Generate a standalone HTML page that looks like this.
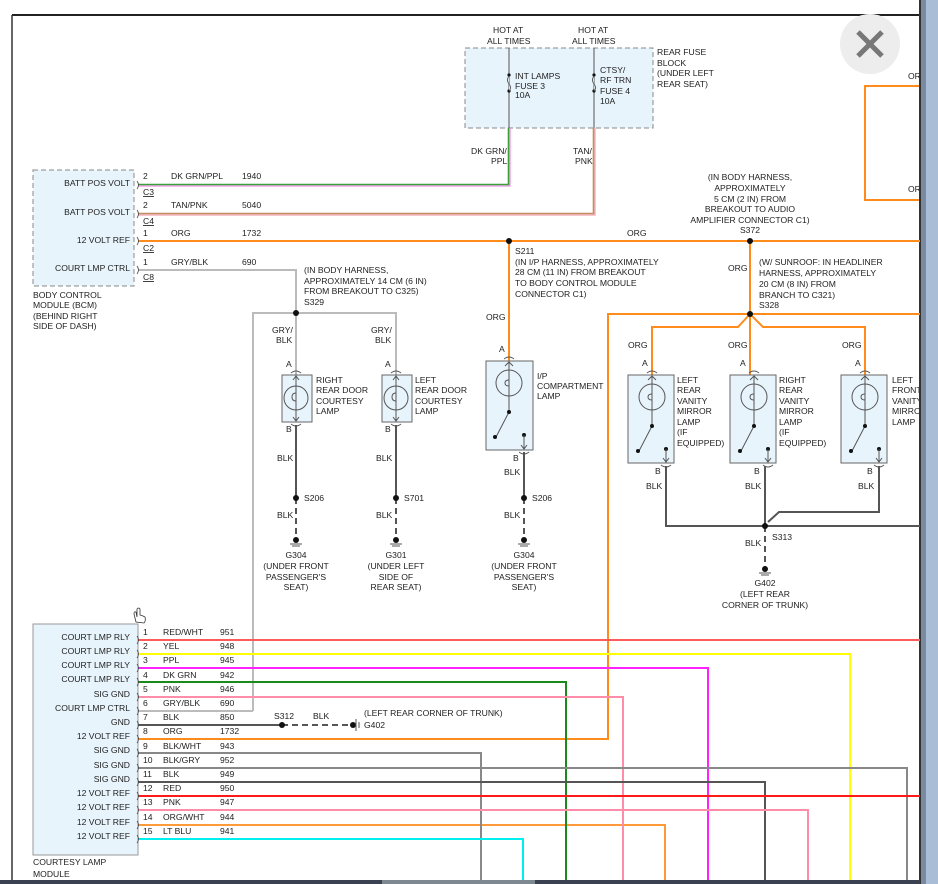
<!DOCTYPE html>
<html><head><meta charset="utf-8"><style>
html,body{margin:0;padding:0;background:#fff;width:938px;height:884px;overflow:hidden}
svg{display:block}
text{font-family:"Liberation Sans",Arial,sans-serif;font-size:8.6px;fill:#222}
</style></head><body>
<svg width="938" height="884" viewBox="0 0 938 884" xmlns="http://www.w3.org/2000/svg">
<!-- frame -->
<line x1="12" y1="15" x2="920" y2="15" stroke="#222" stroke-width="2"/>
<line x1="12" y1="15" x2="12" y2="884" stroke="#333" stroke-width="1.5"/>
<rect x="920" y="0" width="18" height="884" fill="#7a8aa0"/>
<rect x="919" y="0" width="2" height="884" fill="#333"/>
<rect x="926" y="0" width="12" height="884" fill="#a9bdd6"/>
<!-- close button -->
<circle cx="870" cy="44" r="30" fill="#ededed"/>
<path d="M858 32 L882 56 M882 32 L858 56" stroke="#777" stroke-width="5"/>

<!-- fuse block -->
<rect x="465" y="48" width="188" height="80" fill="#e8f4fc" stroke="#888" stroke-dasharray="5,3"/>
<text x="493" y="33">HOT AT</text><text x="487" y="44">ALL TIMES</text>
<text x="578" y="33">HOT AT</text><text x="572" y="44">ALL TIMES</text>
<text x="657" y="55">REAR FUSE</text><text x="657" y="66">BLOCK</text><text x="657" y="76">(UNDER LEFT</text><text x="657" y="87">REAR SEAT)</text>
<line x1="509" y1="48" x2="509" y2="128" stroke="#555"/>
<line x1="594" y1="48" x2="594" y2="128" stroke="#555"/>
<circle cx="509" cy="75" r="1.6" fill="#111"/><circle cx="509" cy="91" r="1.6" fill="#111"/>
<circle cx="594" cy="75" r="1.6" fill="#111"/><circle cx="594" cy="91" r="1.6" fill="#111"/>
<path d="M509 76 q-3 4 0 8 q3 4 0 7" fill="#e8f4fc" stroke="#555"/>
<path d="M594 76 q-3 4 0 8 q3 4 0 7" fill="#e8f4fc" stroke="#555"/>
<text x="515" y="79">INT LAMPS</text><text x="515" y="89">FUSE 3</text><text x="515" y="98">10A</text>
<text x="600" y="73">CTSY/</text><text x="600" y="83">RF TRN</text><text x="600" y="94">FUSE 4</text><text x="600" y="104">10A</text>
<text x="471" y="154">DK GRN/</text><text x="491" y="164">PPL</text>
<text x="573" y="154">TAN/</text><text x="575" y="164">PNK</text>

<!-- BCM wires -->
<path d="M138 186 H510 V128" fill="none" stroke="#f08ae8" stroke-width="1.2"/>
<path d="M138 184.5 H508.5 V128" fill="none" stroke="#3aa03a" stroke-width="1.6"/>
<path d="M138 215 H595 V128" fill="none" stroke="#f4a0b0" stroke-width="1.2"/>
<path d="M138 213.5 H593.5 V128" fill="none" stroke="#c09060" stroke-width="1.6"/>
<line x1="138" y1="241" x2="920" y2="241" stroke="#ff8c1a" stroke-width="2"/>
<path d="M138 270 H296 V313" fill="none" stroke="#bbb" stroke-width="2"/>
<!-- BCM -->
<rect x="33" y="170" width="101" height="116" fill="#e8f4fc" stroke="#888" stroke-dasharray="5,3"/>
<g text-anchor="end"><text x="130" y="186">BATT POS VOLT</text><text x="130" y="215">BATT POS VOLT</text><text x="130" y="243">12 VOLT REF</text><text x="130" y="271">COURT LMP CTRL</text></g>
<text x="143" y="179">2</text><text x="143" y="195" text-decoration="underline">C3</text><text x="171" y="179">DK GRN/PPL</text><text x="242" y="179">1940</text>
<text x="143" y="208">2</text><text x="143" y="224" text-decoration="underline">C4</text><text x="171" y="208">TAN/PNK</text><text x="242" y="208">5040</text>
<text x="143" y="236">1</text><text x="143" y="251" text-decoration="underline">C2</text><text x="171" y="236">ORG</text><text x="242" y="236">1732</text>
<text x="143" y="265">1</text><text x="143" y="280" text-decoration="underline">C8</text><text x="171" y="265">GRY/BLK</text><text x="242" y="265">690</text>
<g fill="none" stroke="#444" stroke-width="0.8"><path d="M137 181 q3 4 0 8"/><path d="M137 210 q3 4 0 8"/><path d="M137 237 q3 4 0 8"/><path d="M137 266 q3 4 0 8"/></g>
<text x="33" y="298">BODY CONTROL</text><text x="33" y="308">MODULE (BCM)</text><text x="33" y="319">(BEHIND RIGHT</text><text x="33" y="329">SIDE OF DASH)</text>

<!-- S329 -->
<path d="M253 711 V313 H396 V375" fill="none" stroke="#bbb" stroke-width="2"/>
<line x1="296" y1="313" x2="296" y2="375" stroke="#bbb" stroke-width="2"/>
<circle cx="296" cy="313" r="3" fill="#111"/>
<text x="304" y="273">(IN BODY HARNESS,</text><text x="304" y="284">APPROXIMATELY 14 CM (6 IN)</text><text x="304" y="294">FROM BREAKOUT TO C325)</text><text x="304" y="305">S329</text>
<text x="272" y="333">GRY/</text><text x="276" y="343">BLK</text><text x="371" y="333">GRY/</text><text x="375" y="343">BLK</text>
<text x="286" y="367">A</text><text x="385" y="367">A</text>

<!-- door lamps -->
<g id="dl">
<rect x="282" y="375" width="30" height="47" fill="#e8f4fc" stroke="#666"/>
<circle cx="296" cy="398" r="12" fill="none" stroke="#555"/>
<line x1="296" y1="376" x2="296" y2="421" stroke="#555"/>
<path d="M293 380 L296 376 L299 380 M293 417 L296 421 L299 417" fill="none" stroke="#555"/>
<path d="M296 393 q-4 0 -4 4 q0 4 4 4" fill="none" stroke="#555"/>
<path d="M291 373 q5 -4 10 0 M291 424 q5 4 10 0" fill="none" stroke="#555"/>
</g>
<use href="#dl" x="100"/>
<text x="316" y="383">RIGHT</text><text x="316" y="393">REAR DOOR</text><text x="316" y="404">COURTESY</text><text x="316" y="414">LAMP</text>
<text x="415" y="383">LEFT</text><text x="415" y="393">REAR DOOR</text><text x="415" y="404">COURTESY</text><text x="415" y="414">LAMP</text>
<text x="286" y="432">B</text><text x="385" y="432">B</text>

<!-- grounds lower -->
<g stroke="#555" stroke-width="2">
<line x1="296" y1="425" x2="296" y2="498"/><line x1="396" y1="425" x2="396" y2="498"/><line x1="524" y1="452" x2="524" y2="498"/>
</g>
<g stroke="#555" stroke-width="2" stroke-dasharray="6,4">
<line x1="296" y1="498" x2="296" y2="538"/><line x1="396" y1="498" x2="396" y2="538"/><line x1="524" y1="498" x2="524" y2="538"/>
</g>
<g fill="#111"><circle cx="296" cy="498" r="3"/><circle cx="396" cy="498" r="3"/><circle cx="524" cy="498" r="3"/>
<circle cx="296" cy="540" r="3"/><circle cx="396" cy="540" r="3"/><circle cx="524" cy="540" r="3"/></g>
<g stroke="#555"><path d="M290 544 h12 M292 546 h8"/><path d="M390 544 h12 M392 546 h8"/><path d="M518 544 h12 M520 546 h8"/></g>
<text x="277" y="461">BLK</text><text x="376" y="461">BLK</text><text x="504" y="475">BLK</text>
<text x="277" y="518">BLK</text><text x="376" y="518">BLK</text><text x="504" y="518">BLK</text>
<text x="304" y="501">S206</text><text x="404" y="501">S701</text><text x="532" y="501">S206</text>
<g text-anchor="middle">
<text x="296" y="558">G304</text><text x="296" y="569">(UNDER FRONT</text><text x="296" y="580">PASSENGER'S</text><text x="296" y="590">SEAT)</text>
<text x="396" y="558">G301</text><text x="396" y="569">(UNDER LEFT</text><text x="396" y="580">SIDE OF</text><text x="396" y="590">REAR SEAT)</text>
<text x="524" y="558">G304</text><text x="524" y="569">(UNDER FRONT</text><text x="524" y="580">PASSENGER'S</text><text x="524" y="590">SEAT)</text>
</g>

<!-- S211 / IP lamp -->
<line x1="509" y1="241" x2="509" y2="361" stroke="#ff8c1a" stroke-width="2"/>
<circle cx="509" cy="241" r="3" fill="#111"/>
<text x="515" y="254">S211</text><text x="515" y="265">(IN I/P HARNESS, APPROXIMATELY</text><text x="515" y="275">28 CM (11 IN) FROM BREAKOUT</text><text x="515" y="286">TO BODY CONTROL MODULE</text><text x="515" y="297">CONNECTOR C1)</text>
<text x="486" y="320">ORG</text><text x="499" y="352">A</text>
<g id="ip">
<rect x="486" y="361" width="47" height="89" fill="#e8f4fc" stroke="#666"/>
<circle cx="509" cy="383" r="13" fill="none" stroke="#555"/>
<path d="M509 362 V412 L496 437 M505 366 L509 362 L513 366" fill="none" stroke="#555"/>
<path d="M509 380 q-4 0 -4 3 q0 3 4 3" fill="none" stroke="#555"/>
<circle cx="509" cy="412" r="2" fill="#111"/><circle cx="495" cy="437" r="2" fill="#111"/><circle cx="524" cy="435" r="2" fill="#111"/>
<path d="M524 435 V449 M521 445 L524 449 L527 445" fill="none" stroke="#555"/>
<path d="M504 359 q5 -4 10 0 M519 452 q5 4 10 0" fill="none" stroke="#555"/>
</g>
<text x="537" y="379">I/P</text><text x="537" y="389">COMPARTMENT</text><text x="537" y="399">LAMP</text>
<text x="513" y="461">B</text>

<!-- S372 / S328 -->
<line x1="750" y1="241" x2="750" y2="314" stroke="#ff8c1a" stroke-width="2"/>
<circle cx="750" cy="241" r="3" fill="#111"/>
<g text-anchor="middle"><text x="750" y="180">(IN BODY HARNESS,</text><text x="750" y="191">APPROXIMATELY</text><text x="750" y="202">5 CM (2 IN) FROM</text><text x="750" y="212">BREAKOUT TO AUDIO</text><text x="750" y="223">AMPLIFIER CONNECTOR C1)</text><text x="750" y="233">S372</text></g>
<text x="627" y="236">ORG</text>
<text x="728" y="271">ORG</text>
<text x="759" y="265">(W/ SUNROOF: IN HEADLINER</text><text x="759" y="276">HARNESS, APPROXIMATELY</text><text x="759" y="287">20 CM (8 IN) FROM</text><text x="759" y="298">BRANCH TO C321)</text><text x="759" y="308">S328</text>
<path d="M665 883 V825 H138" fill="none" stroke="#ff9a3a" stroke-width="2"/>
<path d="M138 739 H608 V314 H920" fill="none" stroke="#ff8c1a" stroke-width="2"/>
<path d="M750 314 L738 327 H652 V375 M750 314 V375 M750 314 L763 327 H865 V375" fill="none" stroke="#ff8c1a" stroke-width="2"/>
<circle cx="750" cy="314" r="3" fill="#111"/>
<text x="628" y="348">ORG</text><text x="728" y="348">ORG</text><text x="842" y="348">ORG</text>
<text x="642" y="366">A</text><text x="740" y="366">A</text><text x="855" y="366">A</text>
<g id="vl">
<rect x="628" y="375" width="46" height="88" fill="#e8f4fc" stroke="#666"/>
<circle cx="652" cy="397" r="13" fill="none" stroke="#555"/>
<path d="M652 376 V426 L639 451 M648 380 L652 376 L656 380" fill="none" stroke="#555"/>
<path d="M652 394 q-4 0 -4 3 q0 3 4 3" fill="none" stroke="#555"/>
<circle cx="652" cy="426" r="2" fill="#111"/><circle cx="638" cy="451" r="2" fill="#111"/><circle cx="666" cy="449" r="2" fill="#111"/>
<path d="M666 449 V462 M663 458 L666 462 L669 458" fill="none" stroke="#555"/>
<path d="M647 373 q5 -4 10 0 M661 465 q5 4 10 0" fill="none" stroke="#555"/>
</g>
<use href="#vl" x="102"/><use href="#vl" x="213"/>
<g><text x="677" y="383">LEFT</text><text x="677" y="393">REAR</text><text x="677" y="404">VANITY</text><text x="677" y="414">MIRROR</text><text x="677" y="425">LAMP</text><text x="677" y="435">(IF</text><text x="677" y="446">EQUIPPED)</text>
<text x="779" y="383">RIGHT</text><text x="779" y="393">REAR</text><text x="779" y="404">VANITY</text><text x="779" y="414">MIRROR</text><text x="779" y="425">LAMP</text><text x="779" y="435">(IF</text><text x="779" y="446">EQUIPPED)</text>
<text x="892" y="383">LEFT</text><text x="892" y="393">FRONT</text><text x="892" y="404">VANITY</text><text x="892" y="414">MIRROR</text><text x="892" y="425">LAMP</text></g>
<rect x="919" y="370" width="19" height="90" fill="#7a8aa0"/><rect x="919" y="370" width="2" height="90" fill="#333"/><rect x="926" y="370" width="12" height="90" fill="#a9bdd6"/>
<text x="655" y="474">B</text><text x="754" y="474">B</text><text x="867" y="474">B</text>
<text x="646" y="489">BLK</text><text x="745" y="489">BLK</text><text x="858" y="489">BLK</text>
<path d="M666 466 V526 H920 M765 466 V526 M879 466 V512 H779 L768 522" fill="none" stroke="#555" stroke-width="2"/>
<line x1="765" y1="526" x2="765" y2="567" stroke="#555" stroke-width="2" stroke-dasharray="6,4"/>
<circle cx="765" cy="526" r="3" fill="#111"/><circle cx="765" cy="569" r="3" fill="#111"/>
<path d="M759 573 h12 M761 575 h8" stroke="#555"/>
<text x="772" y="540">S313</text><text x="745" y="546">BLK</text>
<g text-anchor="middle"><text x="765" y="586">G402</text><text x="765" y="597">(LEFT REAR</text><text x="765" y="608">CORNER OF TRUNK)</text></g>

<!-- top right orange -->
<path d="M920 86 H865 V200 H920" fill="none" stroke="#ff8c1a" stroke-width="2"/>
<text x="908" y="79">ORG</text><text x="908" y="192">ORG</text>
<rect x="919" y="60" width="19" height="160" fill="#7a8aa0"/><rect x="919" y="60" width="2" height="160" fill="#333"/><rect x="926" y="60" width="12" height="160" fill="#a9bdd6"/>

<!-- courtesy module wires -->
<g fill="none" stroke-width="2">
<path d="M138 640 H920" stroke="#ff5a5a"/>
<path d="M138 654 H850 V883" stroke="#ffff00"/>
<path d="M138 668 H708 V883" stroke="#ff22ff"/>
<path d="M138 682 H566 V883" stroke="#1a8a1a"/>
<path d="M138 697 H623 V883" stroke="#ff8ca8"/>
<path d="M138 711 H253" stroke="#bbb"/>
<path d="M138 725 H282" stroke="#555"/>
<path d="M138 753 H481 V883" stroke="#888"/>
<path d="M138 768 H907 V883" stroke="#888"/>
<path d="M138 782 H765 V883" stroke="#555"/>
<path d="M138 796 H920" stroke="#ff1a1a"/>
<path d="M138 810 H808 V883" stroke="#ff8ca8"/>
<path d="M138 839 H523 V883" stroke="#00f0f0"/>
</g>
<line x1="282" y1="725" x2="352" y2="725" stroke="#555" stroke-width="2" stroke-dasharray="6,4"/>
<circle cx="282" cy="725" r="3" fill="#111"/><circle cx="353" cy="725" r="3" fill="#111"/>
<path d="M356 719 v12 M359 722 v6" stroke="#555"/>
<text x="274" y="719">S312</text><text x="313" y="719">BLK</text>
<text x="364" y="716">(LEFT REAR CORNER OF TRUNK)</text><text x="364" y="728">G402</text>

<rect x="33" y="624" width="105" height="231" fill="#e8f4fc" stroke="#999"/>
<g text-anchor="end">
<text x="130" y="640">COURT LMP RLY</text><text x="130" y="654">COURT LMP RLY</text><text x="130" y="668">COURT LMP RLY</text><text x="130" y="682">COURT LMP RLY</text>
<text x="130" y="697">SIG GND</text><text x="130" y="711">COURT LMP CTRL</text><text x="130" y="725">GND</text><text x="130" y="739">12 VOLT REF</text>
<text x="130" y="753">SIG GND</text><text x="130" y="768">SIG GND</text><text x="130" y="782">SIG GND</text><text x="130" y="796">12 VOLT REF</text>
<text x="130" y="810">12 VOLT REF</text><text x="130" y="825">12 VOLT REF</text><text x="130" y="839">12 VOLT REF</text>
</g>
<g>
<text x="143" y="635">1</text><text x="163" y="635">RED/WHT</text><text x="220" y="635">951</text>
<text x="143" y="649">2</text><text x="163" y="649">YEL</text><text x="220" y="649">948</text>
<text x="143" y="663">3</text><text x="163" y="663">PPL</text><text x="220" y="663">945</text>
<text x="143" y="678">4</text><text x="163" y="678">DK GRN</text><text x="220" y="678">942</text>
<text x="143" y="692">5</text><text x="163" y="692">PNK</text><text x="220" y="692">946</text>
<text x="143" y="706">6</text><text x="163" y="706">GRY/BLK</text><text x="220" y="706">690</text>
<text x="143" y="720">7</text><text x="163" y="720">BLK</text><text x="220" y="720">850</text>
<text x="143" y="734">8</text><text x="163" y="734">ORG</text><text x="220" y="734">1732</text>
<text x="143" y="749">9</text><text x="163" y="749">BLK/WHT</text><text x="220" y="749">943</text>
<text x="143" y="763">10</text><text x="163" y="763">BLK/GRY</text><text x="220" y="763">952</text>
<text x="143" y="777">11</text><text x="163" y="777">BLK</text><text x="220" y="777">949</text>
<text x="143" y="791">12</text><text x="163" y="791">RED</text><text x="220" y="791">950</text>
<text x="143" y="805">13</text><text x="163" y="805">PNK</text><text x="220" y="805">947</text>
<text x="143" y="820">14</text><text x="163" y="820">ORG/WHT</text><text x="220" y="820">944</text>
<text x="143" y="834">15</text><text x="163" y="834">LT BLU</text><text x="220" y="834">941</text>
</g>
<g fill="none" stroke="#444" stroke-width="0.8">
<path d="M137 636 q3 4 0 8"/><path d="M137 650 q3 4 0 8"/><path d="M137 664 q3 4 0 8"/><path d="M137 678 q3 4 0 8"/><path d="M137 693 q3 4 0 8"/><path d="M137 707 q3 4 0 8"/><path d="M137 721 q3 4 0 8"/><path d="M137 735 q3 4 0 8"/><path d="M137 749 q3 4 0 8"/><path d="M137 764 q3 4 0 8"/><path d="M137 778 q3 4 0 8"/><path d="M137 792 q3 4 0 8"/><path d="M137 806 q3 4 0 8"/><path d="M137 821 q3 4 0 8"/><path d="M137 835 q3 4 0 8"/>
</g>
<text x="33" y="865">COURTESY LAMP</text><text x="33" y="877">MODULE</text>
<path d="M136 622 l-2 -8 q0 -3 2 -2 l1 5 v-8 q2 -2 3 0 v6 l3 1 l2 1 q1 4 -1 6 z" fill="#fff" stroke="#333" stroke-width="0.8"/>
<!-- bottom bar -->
<rect x="0" y="880" width="920" height="4" fill="#3a4150"/>
<rect x="382" y="880" width="153" height="4" fill="#7d8890"/>
</svg>
</body></html>
